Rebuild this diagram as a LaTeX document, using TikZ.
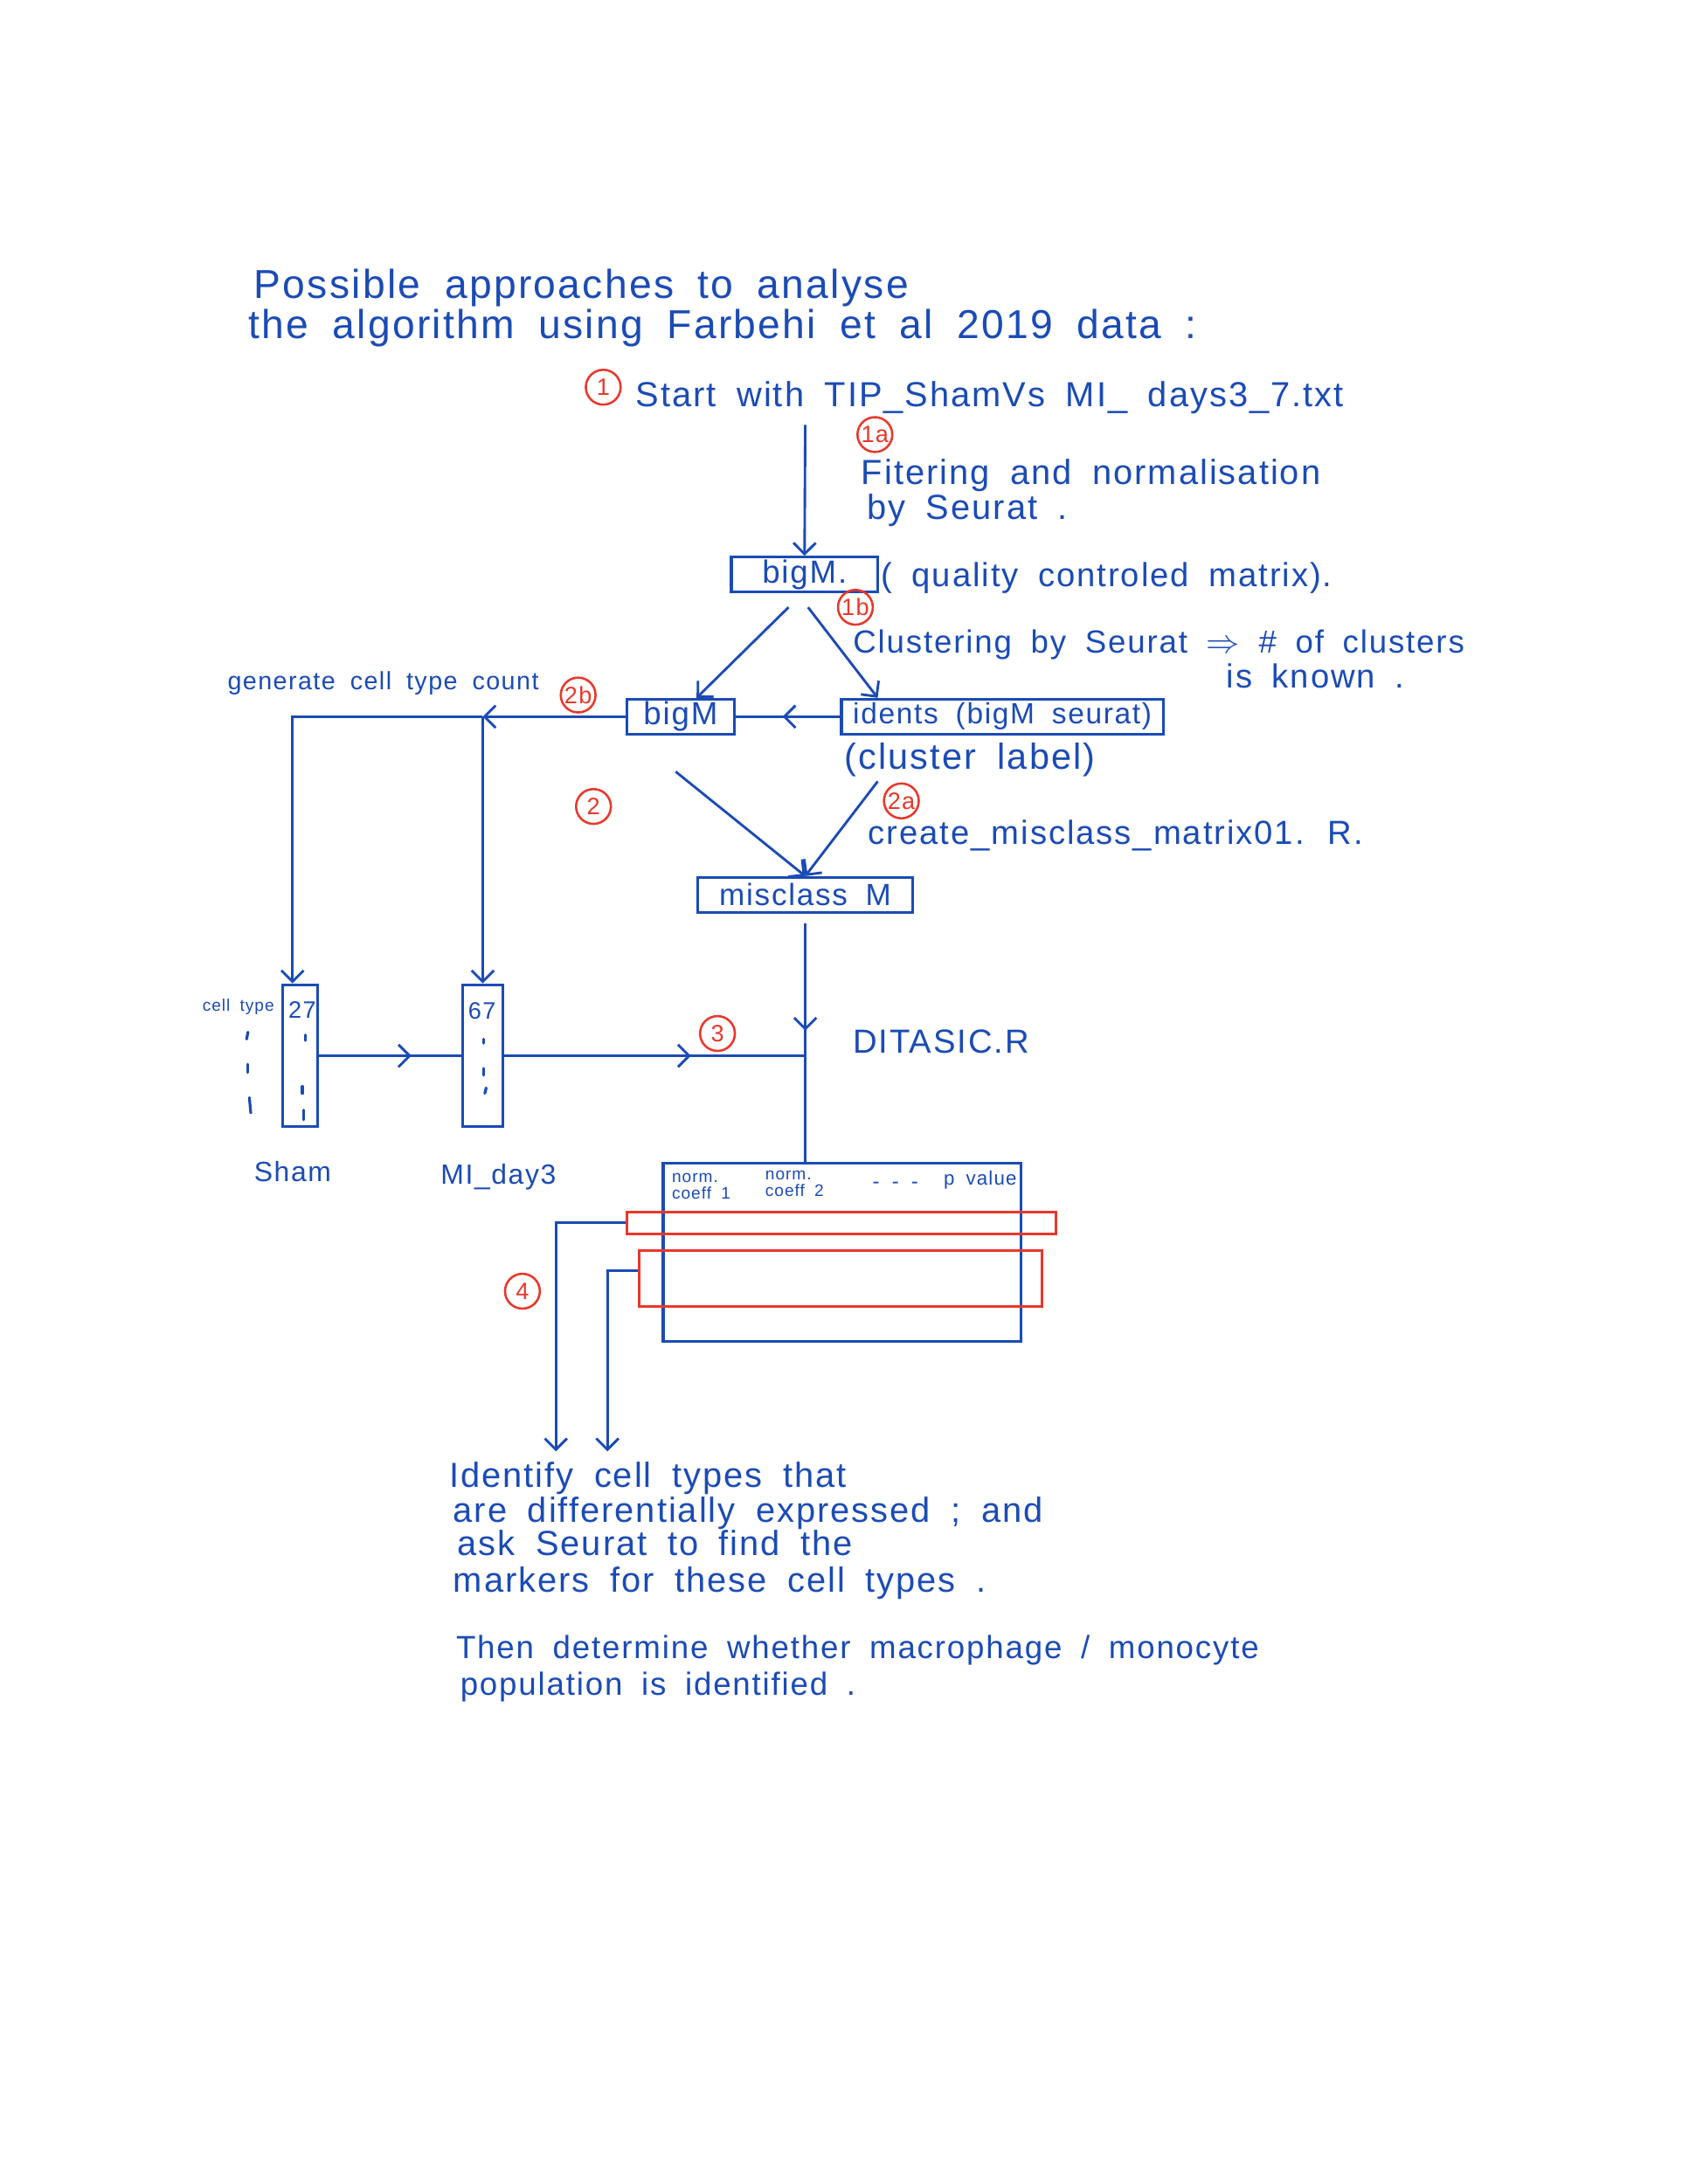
\documentclass[tikz,border=0pt]{standalone}
\usepackage{fontspec}
\setmainfont{Liberation Sans}[WordSpace=1.8,LetterSpace=5]
\usetikzlibrary{arrows.meta,decorations.markings,calc}
\definecolor{ink}{RGB}{27,75,181}
\definecolor{pen}{RGB}{232,56,44}
\newcommand{\pensize}[1]{\fontsize{#1}{#1}\selectfont}
\begin{document}
\begin{tikzpicture}[x=0.5pt,y=-0.5pt,
  line/.style={draw=ink,line width=0.9pt},
  tip/.style={-{Straight Barb[length=4pt,width=8pt]}},
  arr/.style={line,tip},
  midarr/.style={line,postaction={decorate},
    decoration={markings,mark=at position #1 with {\arrow{Straight Barb[length=4pt,width=8pt]}}}},
  txt/.style={text=ink,inner sep=0pt,anchor=base west},
  box/.style={draw=ink,line width=1pt,inner sep=0pt,text=ink},
  redbox/.style={draw=pen,line width=1pt,inner sep=0pt},
  circ/.style={draw=pen,text=pen,circle,line width=0.8pt,inner sep=0pt,
    minimum size=12.5pt,font=\pensize{8.5}},
  tick/.style={draw=ink,line width=1pt,line cap=round}]
\useasboundingbox[fill=white] (0,0) rectangle (1212,1568);

% heading
\node[txt,font=\pensize{14.5}] (title1) at (182,214) {Possible approaches to analyse};
\node[txt,font=\pensize{14.5}] (title2) at (178,243) {the algorithm using Farbehi et al 2019 data :};

% step 1: input file and quality control
\node[circ] (c1) at (433,278) {1};
\node[txt,font=\pensize{12.5}] (start) at (456,292) {Start with TIP\_ShamVs MI\_ days3\_7.txt};
\node[circ] (c1a) at (628,312) {1a};
\node[txt,font=\pensize{12.5}] (filt) at (618,348) {Fitering and normalisation};
\node[txt,font=\pensize{12.5}] (filt2) at (622,373) {by Seurat .};
\node[box,minimum width=52.5pt,minimum height=12.5pt,font=\pensize{11.5}] (bigMa) at (577.5,412.5) {bigM.};
\node[txt,font=\pensize{12}] (qc) at (632,421) {( quality controled matrix).};
\node[circ] (c1b) at (614,436) {1b};
\node[txt,font=\pensize{11.5}] (clus) at (612,469) {Clustering by Seurat $\Rightarrow$ \# of clusters};
\node[txt,font=\pensize{12}] (known) at (880,494) {is known .};

% step 2: matrices
\node[txt,font=\pensize{9}] (gen) at (163,495) {generate cell type count};
\node[circ] (c2b) at (415,499) {2b};
\node[box,minimum width=38.5pt,minimum height=12.5pt,font=\pensize{11.5}] (bigMb) at (488.5,514.5) {bigM};
\node[box,minimum width=115.5pt,minimum height=12.5pt,font=\pensize{10.5}] (idents) at (719.5,514.5) {idents (bigM seurat)};
\node[txt,font=\pensize{13}] (clab) at (606,552) {(cluster label)};
\node[circ] (c2) at (426,579) {2};
\node[circ] (c2a) at (647,575) {2a};
\node[txt,font=\pensize{12}] (create) at (623,606) {create\_misclass\_matrix01. R.};
\node[box,minimum width=77pt,minimum height=12.5pt,font=\pensize{11}] (misc) at (578,642.5) {misclass M};

% cell type count columns
\node[box,minimum width=12.5pt,minimum height=51pt] (sham) at (215.5,758) {};
\node[box,minimum width=14.5pt,minimum height=51pt] (mi) at (346.5,758) {};
\node[text=ink,inner sep=0pt,font=\pensize{8.5}] (n27) at (217,725) {27};
\node[text=ink,inner sep=0pt,font=\pensize{8.5}] (n67) at (346,726) {67};
\node[txt,font=\pensize{6}] (ctype) at (145,726) {cell type};
\node[txt,font=\pensize{10}] (shamlab) at (182,848) {Sham};
\node[txt,font=\pensize{10}] (milab) at (316,850) {MI\_day3};
\draw[tick] (178,741) -- (177,746);
\draw[tick] (178,764) -- (178,770);
\draw[tick] (179,788) -- (180,799);
\draw[tick] (219,743) -- (219,747);
\draw[tick] (217,780) -- (217,785);
\draw[tick] (218,797) -- (218,804);
\draw[tick] (347,746) -- (347,749);
\draw[tick] (347,767) -- (347,772);
\draw[tick] (349,781) -- (348,785);

% step 3: DiTASiC result table
\node[circ] (c3) at (515,742) {3};
\node[txt,font=\pensize{12}] (ditasic) at (612,756) {DITASIC.R};
\node[box,minimum width=128.5pt,minimum height=64pt] (tab) at (604.5,899) {};
\node[txt,font=\pensize{6},align=left,anchor=north west] (h1) at (482,842) {norm.\\coeff 1};
\node[txt,font=\pensize{6},align=left,anchor=north west] (h2) at (549,840) {norm.\\coeff 2};
\node[txt,font=\pensize{7.5}] (h3) at (626,853) {- - -};
\node[txt,font=\pensize{7}] (h4) at (677,851) {p value};
\node[redbox,minimum width=154pt,minimum height=8pt] (r1) at (604,878) {};
\node[redbox,minimum width=144.5pt,minimum height=20pt] (r2) at (603.5,918) {};

% step 4: follow-up
\node[circ] (c4) at (375,927) {4};
\coordinate (e1) at (399,1042);
\coordinate (e2) at (436,1042);
\node[txt,font=\pensize{12.5}] (b1) at (322,1068) {Identify cell types that};
\node[txt,font=\pensize{12.5}] (b2) at (325,1093) {are differentially expressed ; and};
\node[txt,font=\pensize{12.5}] (b3) at (328,1117) {ask Seurat to find the};
\node[txt,font=\pensize{12.5}] (b4) at (325,1143) {markers for these cell types .};
\node[txt,font=\pensize{11.5}] (b5) at (327,1191) {Then determine whether macrophage / monocyte};
\node[txt,font=\pensize{11.5}] (b6) at (330,1217) {population is identified .};

% connectors
\coordinate (s1) at (578,305);
\draw[arr] (s1) -- (bigMa.north);
\draw[arr] ([shift={(-11.5,10)}]bigMa.south) -- ([shift={(11.5,0)}]bigMb.north);
\draw[arr] ([shift={(2.5,10)}]bigMa.south) -- ([shift={(-89.5,0)}]idents.north);
\draw[midarr=0.55] (idents.west) -- (bigMb.east);
\coordinate (shamtop) at ([xshift=-2.75pt]sham.north);
\draw[arr] (bigMb.west) -- (mi.north |- bigMb.west);
\draw[arr] (mi.north |- bigMb.west) -- (shamtop |- bigMb.west) -- (shamtop);
\draw[arr] (mi.north |- bigMb.west) -- (mi.north);
\draw[arr] ([shift={(-3.5,26)}]bigMb.south) -- (misc.north);
\draw[arr] ([shift={(-89.5,33)}]idents.south) -- (misc.north);
\draw[midarr=0.65] (sham.east) -- (mi.west);
\draw[midarr=0.62] (mi.east) -- (misc.south |- mi.east);
\draw[midarr=0.45] ([yshift=-3.5pt]misc.south) -- (misc.south |- tab.north);
\draw[arr] (r1.west) -| (e1);
\draw[arr] ([yshift=3pt]r2.west) -| (e2);
\end{tikzpicture}
\end{document}
